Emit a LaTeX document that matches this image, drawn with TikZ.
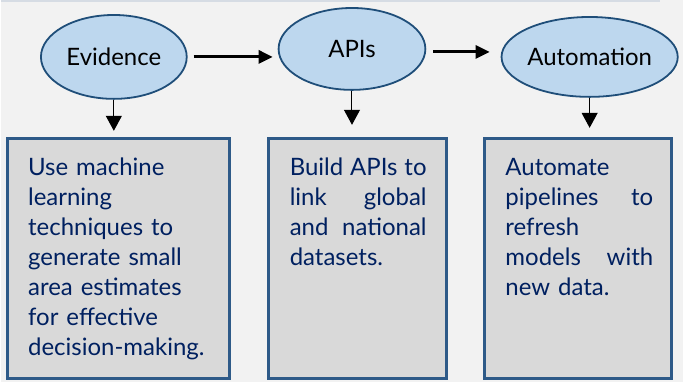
\documentclass[tikz,border=0pt]{standalone}
\usepackage{fontspec}
\setmainfont{Lato}
\usepackage{xcolor}
\usetikzlibrary{shapes.geometric,arrows.meta}
\definecolor{bgGray}{HTML}{F2F2F2}
\definecolor{ruleGray}{HTML}{D6DCE4}
\definecolor{ovalFill}{HTML}{BDD7EE}
\definecolor{ovalLine}{HTML}{1F4E79}
\definecolor{cardFill}{HTML}{D9D9D9}
\definecolor{cardLine}{HTML}{2E5A88}
\definecolor{cardText}{HTML}{002060}

\begin{document}
\begin{tikzpicture}[x=1pt,y=-1pt,
  stage/.style={ellipse,draw=ovalLine,line width=1.8pt,fill=ovalFill,inner sep=0pt,font=\fontsize{24}{28}\selectfont},
  card/.style={draw=cardLine,line width=3pt,fill=cardFill,anchor=north west,inner sep=0pt},
  cardtext/.style={anchor=base west,inner sep=0pt,align=left,text=cardText,font=\fontsize{24}{30}\selectfont},
  flow/.style={line width=3pt,-{Triangle[length=14pt,width=13pt]}},
  drop/.style={line width=1pt,-{Triangle[length=15pt,width=16pt]}}]
  % background and top rule
  \fill[bgGray] (0,0) rectangle (683,383);
  \draw[ruleGray,line width=2pt] (0,1) -- (660,1);
  % stages
  \node[stage,minimum width=146pt,minimum height=84pt] (ev) at (113,57) {Evidence};
  \node[stage,minimum width=147pt,minimum height=82pt] (api) at (351.5,49) {APIs};
  \node[stage,minimum width=145pt,minimum height=80pt] (aut) at (589.5,57) {Automation};
  % cards
  \node[card,minimum width=222pt,minimum height=241pt] (c1) at (5,137) {};
  \node[card,minimum width=179pt,minimum height=241pt] (c2) at (266,137) {};
  \node[card,minimum width=187pt,minimum height=241pt] (c3) at (483,137) {};
  % card texts
  \node[cardtext,text width=200pt] (t1) at (27,176) {Use machine\\ learning\\ techniques to\\ generate small\\ area estimates\\ for effective\\ decision-making.};
  \node[cardtext,text width=137pt] (t2) at (289,176) {Build\hfill APIs\hfill to\\ link\hfill global\\ and\hfill national\\ datasets.};
  \node[cardtext,text width=148pt] (t3) at (505,176) {Automate\\ pipelines\hfill to\\ refresh\\ models\hfill with\\ new data.};
  % arrows
  \draw[flow,shorten <=6pt,shorten >=5pt] (ev.east) -- (ev.east -| api.west);
  \draw[flow,shorten <=7pt,shorten >=11pt] ([yshift=-3pt]api.east) -- ([yshift=-3pt]api.east -| aut.west);
  \draw[drop,shorten >=6pt] (ev.south) -- (ev.south |- c1.north);
  \draw[drop,shorten >=12pt] (api.south) -- (api.south |- c2.north);
  \draw[drop,shorten >=9pt] (aut.south) -- (aut.south |- c3.north);
\end{tikzpicture}
\end{document}
